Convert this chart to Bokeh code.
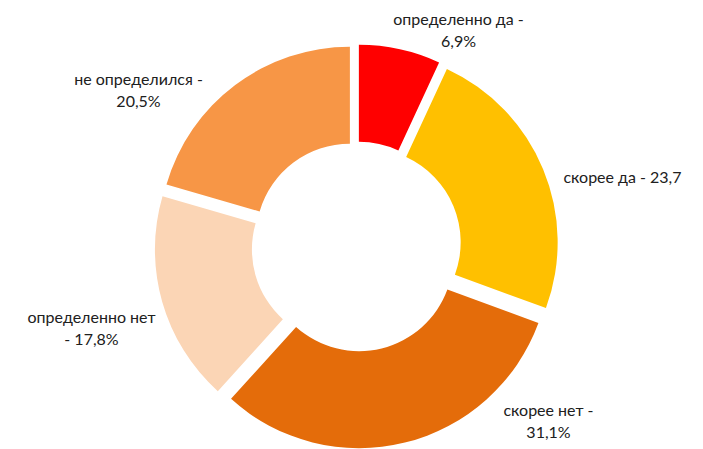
import math
from bokeh.plotting import figure
from bokeh.models import Range1d, ColumnDataSource
from bokeh.core.properties import value
from bokeh.embed import file_html
from bokeh.resources import INLINE

# ---- data ----
categories = ["определенно да", "скорее да", "скорее нет", "определенно нет", "не определился"]
shares = [6.9, 23.7, 31.1, 17.8, 20.5]
label_texts = ["определенно да -\n6,9%", "скорее да - 23,7", "скорее нет -\n31,1%",
               "определенно нет\n- 17,8%", "не определился -\n20,5%"]
colors = ["#FF0000", "#FFC000", "#E46C0A", "#FBD5B5", "#F79646"]

# ---- layout (pixels, image coordinates; y measured downward) ----
WIN_W, WIN_H = 703, 449
W, H = WIN_W, WIN_H
CX, CY = 356, 246          # donut centre (image px)
R_OUT, R_IN = 191, 94
EXPLODE = 11
# label anchor offsets from the donut centre (dx right, dy down), per slice
label_offsets = [(102, -217), (266, -70), (192, 174), (-265, 81), (-218, -157)]
LINE_GAP = 22

def to_data_y(img_y):
    return WIN_H - img_y

p = figure(width=W, height=H, output_backend="svg", toolbar_location=None,
           x_range=Range1d(0, W), y_range=Range1d(0, H),
           min_border=0, outline_line_color=None)
p.axis.visible = False
p.grid.visible = False
p.background_fill_color = "white"
p.border_fill_color = "white"

total = sum(shares)
xs, ys, starts, ends = [], [], [], []
cum = 0.0
for v in shares:
    t0 = cum / total * 2 * math.pi          # clockwise from 12 o'clock
    t1 = (cum + v) / total * 2 * math.pi
    cum += v
    mid = (t0 + t1) / 2
    xs.append(CX + EXPLODE * math.sin(mid))
    ys.append(to_data_y(CY) + EXPLODE * math.cos(mid))
    starts.append(math.pi / 2 - t1)
    ends.append(math.pi / 2 - t0)

src = ColumnDataSource(dict(x=xs, y=ys, start=starts, end=ends, color=colors, cat=categories))
p.annular_wedge(x="x", y="y", inner_radius=R_IN, outer_radius=R_OUT,
                start_angle="start", end_angle="end", direction="anticlock",
                fill_color="color", line_color=None, source=src)

lx, ly, lt = [], [], []
for txt, (dx, dy) in zip(label_texts, label_offsets):
    lines = txt.split("\n")
    n = len(lines)
    for i, line in enumerate(lines):
        off = (i - (n - 1) / 2) * LINE_GAP
        lx.append(CX + dx)
        ly.append(to_data_y(CY + dy + off))
        lt.append(line)

p.text(x=lx, y=ly, text=lt, text_align="center", text_baseline="middle",
       text_font=value("Lato"), text_font_size="16px", text_color="#202020")

open("out.html", "w").write(file_html(p, INLINE))
